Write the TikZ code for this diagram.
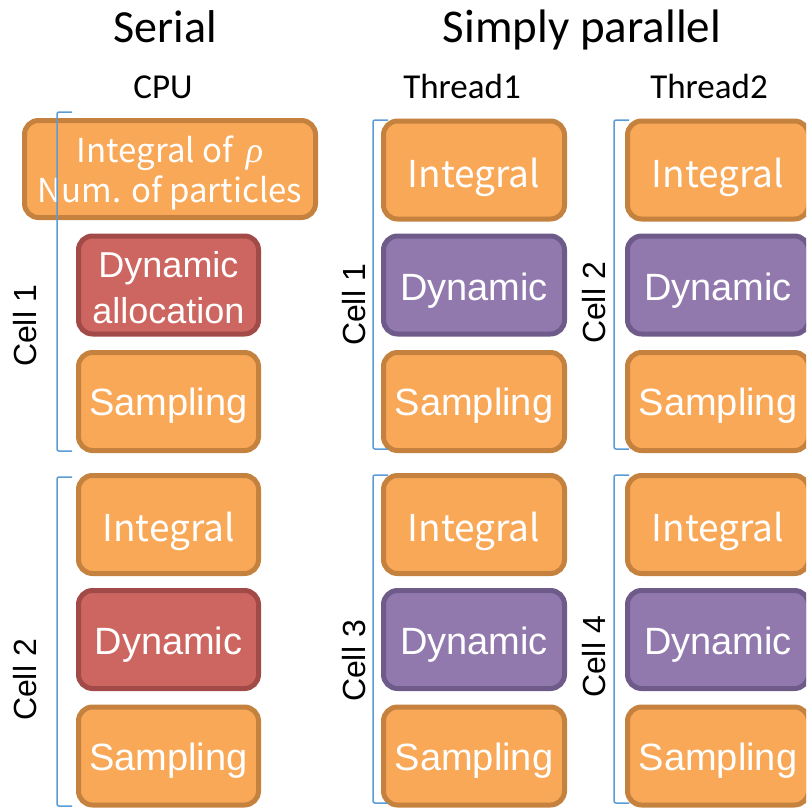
\documentclass[tikz,border=0pt]{standalone}
\usepackage{fontspec}
\setmainfont{Liberation Sans}
\newfontfamily\titlefont{Carlito}
\newfontfamily\jpfont{Noto Sans CJK JP}
\newfontfamily\greekfont{Liberation Serif}
\definecolor{orfill}{HTML}{F9A857}
\definecolor{ordraw}{HTML}{C5823F}
\definecolor{rdfill}{HTML}{CD6660}
\definecolor{rddraw}{HTML}{A24A47}
\definecolor{pufill}{HTML}{9179AE}
\definecolor{pudraw}{HTML}{6E5B8A}
\definecolor{brkblue}{HTML}{5B9BD5}
\tikzset{
  blk/.style={rectangle, rounded corners=14pt, line width=5pt, text=white,
    minimum width=180pt, minimum height=98pt, inner sep=0pt, align=center},
  obox/.style={blk, draw=ordraw, fill=orfill},
  rbox/.style={blk, draw=rddraw, fill=rdfill},
  pbox/.style={blk, draw=pudraw, fill=pufill},
  intg/.style={font=\jpfont\fontsize{37}{44}\selectfont, text height=40pt, text depth=6pt},
  dyn/.style={font=\fontsize{38}{44}\selectfont, text height=37pt, text depth=7pt},
  smp/.style={font=\fontsize{38}{44}\selectfont, text height=35pt, text depth=7pt},
  boxtxt/.style={text=white, inner sep=0pt, anchor=base, align=center},
  brk/.style={draw=brkblue, line width=1.5pt, rounded corners=2pt},
  celllbl/.style={rotate=90, font=\fontsize{32}{38}\selectfont, inner sep=0pt},
  ttl/.style={font=\titlefont\fontsize{46}{54}\selectfont, anchor=base, inner sep=0pt},
  sttl/.style={font=\titlefont\fontsize{35}{42}\selectfont, anchor=base, inner sep=0pt}
}
\begin{document}
\begin{tikzpicture}[x=1pt,y=-1pt]
\useasboundingbox (0,0) rectangle (806,811);
\clip (0,0) rectangle (806,811);

% headings
\node[ttl] (serial) at (165,42) {Serial};
\node[ttl, font=\titlefont\fontsize{47}{54}\selectfont] (par) at (582,42) {Simply parallel};
\node[sttl] (cpu) at (163,98) {CPU};
\node[sttl] (th1) at (462,98) {Thread1};
\node[sttl] (th2) at (709,98) {Thread2};

% serial column, cell 1
\node[obox, minimum width=291pt, minimum height=97pt] (sint1) at (170,169) {};
\node[boxtxt, font=\jpfont\fontsize{33}{40}\selectfont] (sint1t) at ([yshift=-33pt]sint1.center)
  {Integral of\, {\greekfont\itshape\fontsize{36}{40}\selectfont ρ}\\Num. of particles};
\node[rbox] (sdyn1) at (168.5,285) {};
\node[boxtxt, font=\fontsize{36}{46}\selectfont] (sdyn1t) at ([yshift=-38pt]sdyn1.center)
  {Dynamic\\allocation};
\node[obox, smp] (ssmp1) at (168.5,401.5) {Sampling};
% serial column, cell 2
\node[obox, intg] (sint2) at (168.5,524.5) {Integral};
\node[rbox, dyn] (sdyn2) at (168.5,639.5) {Dynamic};
\node[obox, smp] (ssmp2) at (168.5,756) {Sampling};

% thread 1
\node[obox, intg, minimum width=181pt] (aint1) at (474,170) {Integral};
\node[pbox, dyn, minimum width=181pt] (adyn1) at (474,285) {Dynamic};
\node[obox, smp, minimum width=181pt] (asmp1) at (474,401.5) {Sampling};
\node[obox, intg, minimum width=181pt] (aint3) at (474,524.5) {Integral};
\node[pbox, dyn, minimum width=181pt] (adyn3) at (474,639.5) {Dynamic};
\node[obox, smp, minimum width=181pt] (asmp3) at (474,756) {Sampling};

% thread 2
\node[obox, intg, minimum width=181pt] (bint2) at (718,170) {Integral};
\node[pbox, dyn, minimum width=181pt] (bdyn2) at (718,285) {Dynamic};
\node[obox, smp, minimum width=181pt] (bsmp2) at (718,401.5) {Sampling};
\node[obox, intg, minimum width=181pt] (bint4) at (718,524.5) {Integral};
\node[pbox, dyn, minimum width=181pt] (bdyn4) at (718,639.5) {Dynamic};
\node[obox, smp, minimum width=181pt] (bsmp4) at (718,756) {Sampling};

% cell brackets
\draw[brk] (72,112) -- (57,112) -- (57,451) -- (72,451);
\draw[brk] (72,477) -- (57,477) -- (57,806) -- (72,806);
\draw[brk] (388,120) -- (373,120) -- (373,449) -- (388,449);
\draw[brk] (629,120) -- (614,120) -- (614,449) -- (629,449);
\draw[brk] (388,475) -- (373,475) -- (373,803) -- (388,803);
\draw[brk] (629,475) -- (614,475) -- (614,803) -- (629,803);

% cell labels
\node[celllbl] (c1s) at (25,326) {Cell 1};
\node[celllbl] (c2s) at (25,680) {Cell 2};
\node[celllbl] (c1p) at (354,305) {Cell 1};
\node[celllbl] (c2p) at (594,303) {Cell 2};
\node[celllbl] (c3p) at (354,661) {Cell 3};
\node[celllbl] (c4p) at (594,657) {Cell 4};
\end{tikzpicture}
\end{document}
